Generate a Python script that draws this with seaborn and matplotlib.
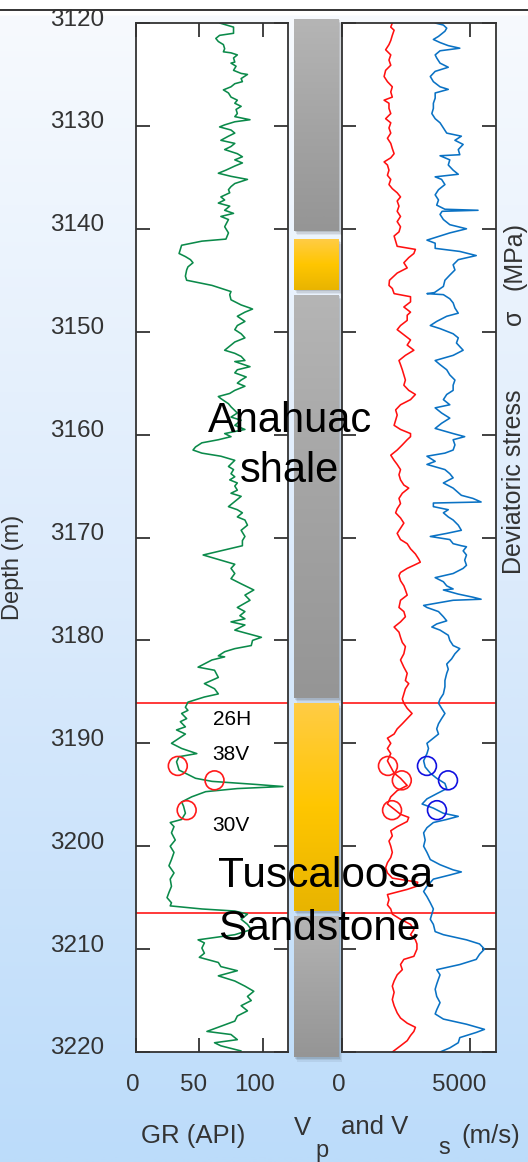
import numpy as np
import matplotlib
matplotlib.use("Agg")
import matplotlib.pyplot as plt
import seaborn as sns
from matplotlib.transforms import ScaledTranslation
from matplotlib.patches import Rectangle
from matplotlib.colors import LinearSegmentedColormap
from matplotlib.lines import Line2D

# ---------------- data (depth in m) ----------------
gr_log = [(3120.0,66),(3120.4,77),(3121.0,77),(3121.2,66),(3121.5,63),(3121.8,65),(3122.1,69),(3122.5,70),
          (3122.8,69),(3122.9,75),(3123.1,80),(3123.4,77),(3123.8,78),(3123.9,75),(3124.2,79),(3124.6,77),
          (3124.9,83),(3125.0,88),(3125.4,83),(3125.7,84),(3125.9,78),(3126.2,75),(3126.5,69),(3126.8,73),
          (3127.2,75),(3127.5,80),(3127.8,78),(3128.1,83),(3128.4,79),(3128.8,80),(3129.1,78),(3129.4,90),
          (3129.6,78),(3129.9,70),(3130.1,66),(3130.4,75),(3130.7,78),(3131.0,73),(3131.4,67),(3131.7,78),
          (3132.0,75),(3132.3,70),(3132.7,80),(3133.0,84),(3133.3,78),(3133.6,84),(3133.9,78),(3134.3,71),
          (3134.6,65),(3134.9,75),(3135.2,88),(3135.6,78),(3135.9,75),(3136.2,73),(3136.5,74),(3136.9,67),
          (3137.2,70),(3137.5,65),(3137.8,74),(3138.2,70),(3138.5,77),(3138.8,67),(3139.1,73),(3139.8,70),
          (3140.4,73),(3141.0,71),(3141.2,52),(3141.6,36),(3142.0,35),(3142.4,34),(3142.7,39),(3143.0,43),
          (3143.3,45),(3143.7,41),(3144.0,40),(3144.6,39),(3145.0,40),(3145.5,60),(3146.1,75),(3146.4,74),
          (3146.9,75),(3147.4,83),(3147.7,90),(3147.8,92),(3148.1,86),(3148.5,80),(3149.0,86),(3149.4,80),
          (3149.8,78),(3150.2,83),(3150.6,86),(3151.0,78),(3151.5,73),(3151.8,70),(3152.1,78),(3152.4,83),
          (3152.8,86),(3152.9,78),(3153.4,90),(3153.7,80),(3154.0,78),(3154.4,87),(3154.7,83),(3155.0,80),
          (3155.3,86),(3155.7,78),(3156.0,74),(3156.3,65),(3156.5,67),(3157.0,73),(3157.3,75),(3157.9,80),
          (3158.3,75),(3158.6,83),(3159.1,78),(3159.5,86),(3159.9,70),(3160.2,75),(3160.5,65),(3160.8,52),
          (3161.2,47),(3161.5,45),(3161.8,52),(3162.1,67),(3162.5,78),(3163.1,73),(3163.4,77),(3163.8,75),
          (3164.1,78),(3164.4,74),(3164.7,80),(3165.0,78),(3165.4,80),(3165.7,75),(3166.0,83),(3166.5,78),
          (3167.0,73),(3167.3,80),(3167.6,84),(3168.0,80),(3168.3,86),(3168.8,88),(3169.3,83),(3169.9,86),
          (3170.3,84),(3170.8,84),(3171.7,53),(3172.6,78),(3173.0,75),(3173.5,78),(3174.0,75),(3174.5,83),
          (3175.1,93),(3175.6,86),(3176.1,90),(3176.8,80),(3177.2,86),(3177.6,82),(3177.9,86),(3178.2,75),
          (3178.5,86),(3179.0,78),(3179.7,99),(3180.0,92),(3180.5,91),(3180.8,78),(3181.1,70),(3181.5,65),
          (3181.6,70),(3181.9,60),(3182.6,49),(3182.9,62),(3183.6,65),(3184.2,54),(3184.7,62),(3185.2,65),
          (3185.5,54),(3186.0,41),(3186.5,39),(3186.8,41),(3187.1,36),(3187.6,40),(3187.9,35),(3188.4,39),
          (3188.7,32),(3189.1,39),(3190.0,28),(3190.5,36),(3191.0,48),(3191.3,34),(3191.8,32),(3192.6,34),
          (3193.4,47),(3193.7,60),(3194.0,95),(3194.2,116),(3194.4,80),(3194.7,55),(3195.2,44),(3195.7,36),
          (3196.1,37.5),(3196.8,39),(3197.4,36),(3197.7,27),(3198.1,30),(3198.7,28),(3199.4,31),(3200.0,27),
          (3200.6,30),(3201.3,28),(3201.9,26),(3202.6,30),(3203.2,27),(3203.9,28),(3204.5,26),(3205.0,24.5),
          (3205.5,28),(3205.8,27),(3206.1,52),(3206.3,78),(3206.6,88),(3207.1,83),(3207.6,88),(3208.1,91),
          (3208.6,78),(3209.1,49),(3209.4,54),(3209.9,52),(3210.4,54),(3210.8,50),(3211.3,65),(3211.7,67),
          (3212.1,80),(3212.6,65),(3213.1,78),(3213.6,86),(3214.1,93),(3214.6,88),(3215.0,91),(3215.5,83),
          (3216.0,88),(3216.5,80),(3217.0,78),(3217.5,67),(3218.0,56),(3218.3,75),(3218.6,78),(3218.8,80),
          (3219.1,62),(3219.4,67),(3219.9,83)]

vp_log = [(3120.0,1960),(3120.4,1900),(3120.7,2030),(3121.2,1960),(3121.7,1900),(3122.1,1830),(3122.6,1700),
          (3123.1,1900),(3123.6,1830),(3124.1,1900),(3124.6,1700),(3125.2,1640),(3125.7,1770),(3126.2,1960),
          (3126.7,1900),(3127.2,1960),(3127.5,1640),(3127.8,1830),(3128.3,1830),(3128.8,1900),(3129.3,1700),
          (3129.7,1900),(3130.2,1830),(3130.7,1900),(3131.2,1770),(3131.7,1900),(3132.2,1960),(3132.7,2030),
          (3133.1,1900),(3133.5,1640),(3133.8,1770),(3134.3,1830),(3134.8,1770),(3135.2,1900),(3135.7,1830),
          (3136.1,1960),(3136.5,2150),(3136.9,2280),(3137.3,2150),(3137.8,2220),(3138.3,2150),(3138.8,2280),
          (3139.3,2150),(3139.8,2280),(3140.3,2220),(3140.7,2030),(3141.2,2090),(3141.7,2150),(3142.0,2860),
          (3142.4,2800),(3142.8,2600),(3143.3,2410),(3143.8,2540),(3144.3,2150),(3145.0,1850),(3145.5,1830),
          (3145.8,1960),(3146.3,2030),(3146.6,2670),(3147.1,2670),(3147.6,2410),(3148.1,2670),(3148.4,2540),
          (3148.9,2540),(3149.4,2280),(3149.8,2150),(3150.3,2410),(3150.8,2670),(3151.3,2540),(3151.8,2800),
          (3152.3,2470),(3152.8,2220),(3153.2,2280),(3153.7,2350),(3154.2,2410),(3154.7,2470),(3155.2,2410),
          (3155.7,2600),(3156.1,2860),(3156.6,2670),(3157.1,2280),(3157.6,2090),(3158.1,2150),(3158.6,2090),
          (3159.1,2030),(3159.5,2280),(3159.9,2670),(3160.2,2670),(3160.5,2540),(3161.0,2350),(3161.5,2150),
          (3162.0,1900),(3162.5,2030),(3162.9,2150),(3163.4,2280),(3163.9,2220),(3164.4,2280),(3164.9,2410),
          (3165.2,2600),(3165.7,2350),(3166.2,2220),(3166.7,2280),(3167.2,2150),(3167.6,2090),(3168.1,2280),
          (3168.6,2410),(3169.1,2280),(3169.6,2150),(3170.2,2280),(3170.6,2540),(3171.1,2670),(3171.6,2860),
          (3172.1,2990),(3172.4,3050),(3172.7,2800),(3173.0,2540),(3173.4,2280),(3173.7,2220),(3174.2,2280),
          (3174.7,2410),(3175.1,2470),(3175.6,2540),(3176.1,2280),(3176.8,2220),(3177.2,2410),(3177.7,2470),
          (3178.2,2280),(3178.7,2030),(3179.2,2220),(3179.7,2280),(3180.2,2350),(3180.6,2470),(3181.3,2410),
          (3181.9,2280),(3182.6,2410),(3183.2,2540),(3183.9,2470),(3184.2,2600),(3184.7,2470),(3185.2,2410),
          (3185.7,2350),(3186.1,2410),(3186.6,2540),(3187.1,2730),(3187.6,2540),(3188.1,2350),(3188.6,2150),
          (3189.1,2030),(3189.5,1770),(3190.0,1900),(3190.5,1770),(3191.0,1900),(3191.7,1770),(3192.3,1900),
          (3192.9,2030),(3193.4,2280),(3194.1,2540),(3194.6,2150),(3195.2,1900),(3195.9,1770),(3196.4,2030),
          (3196.9,2280),(3197.2,2600),(3197.6,2540),(3198.1,2150),(3198.5,1900),(3199.0,1960),(3199.5,1830),
          (3200.0,1900),(3200.6,1960),(3201.1,1900),(3201.6,1770),(3202.1,1700),(3202.6,1770),(3203.1,1960),
          (3203.5,2950),(3203.9,2900),(3204.2,2540),(3204.7,1770),(3205.2,1830),(3205.7,1770),(3206.1,1900),
          (3206.6,1960),(3207.1,2280),(3207.6,2670),(3208.1,2800),(3208.6,2670),(3209.1,2860),(3209.5,2920),
          (3210.0,2920),(3210.7,2800),(3211.0,2410),(3211.5,2280),(3212.0,2350),(3212.5,2150),(3213.1,2030),
          (3213.6,1960),(3214.2,2030),(3214.9,1960),(3215.5,2030),(3216.2,2150),(3216.7,2280),(3217.2,2540),
          (3217.6,2860),(3218.0,2800),(3218.4,2670),(3218.9,2540),(3219.4,2280),(3220.0,1960)]

vs_log = [(3120.0,3630),(3120.2,3950),(3120.5,4080),(3120.8,4010),(3121.3,3760),(3121.6,3560),(3121.9,3820),
          (3122.2,4140),(3122.45,4590),(3122.7,3820),(3123.1,3630),(3123.4,3690),(3123.9,3820),(3124.3,4140),
          (3124.7,3630),(3125.2,3440),(3125.7,3560),(3126.2,3820),(3126.45,4140),(3126.8,3630),(3127.3,3630),
          (3127.8,3560),(3128.3,3560),(3128.8,3500),(3129.3,3630),(3129.7,3820),(3130.2,3950),(3130.7,4080),
          (3131.0,4650),(3131.4,4400),(3131.8,4720),(3132.3,4530),(3132.8,4590),(3132.9,3820),(3133.3,4200),
          (3133.8,4140),(3134.3,4330),(3134.7,4530),(3134.95,3630),(3135.2,3880),(3135.7,4010),(3136.2,3760),
          (3136.7,3630),(3137.2,3760),(3137.7,3690),(3138.1,4010),(3138.2,5300),(3138.3,3900),(3138.6,3820),
          (3139.1,3950),(3139.6,4200),(3140.0,4850),(3140.4,4200),(3140.9,3560),(3141.1,3310),(3141.4,3630),
          (3141.9,3630),(3142.2,4590),(3142.6,5230),(3143.0,4530),(3143.5,4330),(3144.0,4400),(3144.5,4200),
          (3145.0,4010),(3145.6,3950),(3146.2,3600),(3146.3,3310),(3146.4,3950),(3146.8,4200),(3147.2,4330),
          (3147.7,4400),(3148.2,4530),(3148.5,4080),(3149.0,3690),(3149.4,3440),(3149.7,3820),(3150.2,4330),
          (3150.6,4530),(3151.1,4460),(3151.8,4720),(3152.3,4330),(3152.8,3630),(3153.2,3820),(3153.7,4080),
          (3154.2,4200),(3154.7,4400),(3155.2,4330),(3155.7,4330),(3156.1,4080),(3156.6,3950),(3157.1,4200),
          (3157.4,3630),(3157.9,3880),(3158.4,4200),(3158.9,3880),(3159.4,3630),(3159.9,4330),(3160.2,4780),
          (3160.5,4330),(3161.0,4400),(3161.5,4330),(3161.8,4010),(3162.1,3310),(3162.6,3630),(3162.9,3310),
          (3163.4,4010),(3163.8,4200),(3164.2,4330),(3164.7,3950),(3165.2,4330),(3165.9,4650),(3166.2,5100),
          (3166.55,5420),(3166.65,3560),(3167.0,3560),(3167.3,4140),(3167.6,3950),(3168.0,4140),(3168.3,4330),
          (3168.8,4530),(3169.3,4650),(3169.6,4080),(3169.9,3440),(3170.2,4200),(3170.6,4330),(3170.8,4650),
          (3170.9,4850),(3171.3,4720),(3171.7,4850),(3172.2,4780),(3172.7,4850),(3173.0,4720),(3173.5,4330),
          (3173.9,3630),(3174.3,3950),(3174.7,4080),(3175.0,4330),(3175.1,3950),(3175.5,4530),(3175.8,5100),
          (3176.0,5420),(3176.1,4330),(3176.6,3180),(3176.8,3310),(3177.2,3760),(3177.7,3950),(3178.1,4080),
          (3178.4,3690),(3178.7,3500),(3179.0,3820),(3179.5,4140),(3180.0,4200),(3180.5,4330),(3180.8,4590),
          (3181.3,4400),(3181.8,4270),(3182.3,4080),(3182.8,4140),(3183.2,4080),(3183.9,4010),(3184.5,4010),
          (3185.2,3950),(3185.7,3820),(3186.1,3760),(3186.6,3880),(3187.1,4010),(3187.6,3880),(3188.1,3760),
          (3188.6,3690),(3189.1,3760),(3189.5,3560),(3190.0,3310),(3190.5,3370),(3191.0,3310),(3191.7,3180),
          (3192.3,3240),(3192.9,3440),(3193.4,3690),(3193.9,4010),(3194.4,4080),(3194.9,3690),(3195.4,3310),
          (3195.9,3120),(3196.3,3560),(3196.8,3950),(3197.1,4530),(3197.4,4080),(3197.7,3560),(3198.2,3310),
          (3198.7,3180),(3199.4,3240),(3200.0,3180),(3200.6,3310),(3201.3,3440),(3201.8,3820),(3202.3,4330),
          (3202.5,4650),(3202.8,4200),(3203.2,3560),(3203.9,3310),(3204.4,3180),(3204.9,3310),(3205.5,3440),
          (3206.1,3560),(3206.6,3500),(3207.1,3440),(3207.6,3560),(3208.3,3630),(3208.6,3950),(3209.1,4850),
          (3209.5,5360),(3210.0,5550),(3210.5,5360),(3211.0,5230),(3211.5,4590),(3212.0,3690),(3212.5,3820),
          (3212.9,3760),(3213.4,3690),(3213.9,3630),(3214.6,3690),(3215.2,3820),(3215.9,3690),(3216.3,3630),
          (3216.8,3950),(3217.3,4850),(3217.8,5550),(3218.1,5230),(3218.6,4590),(3219.1,4530),(3219.6,4200),
          (3220.0,3820)]

sample_depth = [3192.2, 3193.6, 3196.5]
sample_gr = [33, 62, 40]
sample_vp = [1790, 2330, 1950]
sample_vs = [3310, 4130, 3700]
sample_labels = ["26H", "38V", "30V"]
sample_label_depth = [3187.7, 3191.1, 3198.0]

boundary_depth = [3186.1, 3206.5]

litho_top = [3119.6, 3141.0, 3146.4, 3186.1, 3206.8]
litho_base = [3140.2, 3145.9, 3185.6, 3206.3, 3220.5]
litho_kind = ["shale", "sand", "shale", "sand", "shale"]

depth_ticks = list(range(3120, 3221, 10))
gr_ticks = [0, 50, 100]
v_ticks = [0, 5000]

gr_depth, gr_api = map(list, zip(*gr_log))
vp_depth, vp_ms = map(list, zip(*vp_log))
vs_depth, vs_ms = map(list, zip(*vs_log))

# ---------------- figure ----------------
sns.set_theme(style="white")
plt.rcParams["font.family"] = ["Liberation Sans", "DejaVu Sans"]

W, H, DPI = 528, 1162, 100
fig = plt.figure(figsize=(W / DPI, H / DPI), dpi=DPI)


def fx(px):
    return px / W


def fy(py):
    return 1 - py / H


# background gradient
bg = fig.add_axes([0, 0, 1, 1], zorder=-10)
cmap_bg = LinearSegmentedColormap.from_list(
    "bg", [(0.0, "#ffffff"), (0.008, "#ffffff"), (0.01, "#f7fafe"), (0.5, "#dcebfc"), (1.0, "#bcdcfa")])
bg.imshow(np.linspace(0, 1, 600)[:, None], aspect="auto", cmap=cmap_bg,
          extent=[0, 1, 0, 1], origin="upper")
bg.set_axis_off()
fig.add_artist(Line2D([0, 1], [fy(9.5), fy(9.5)], color="#111111", lw=1.2,
                      transform=fig.transFigure))

y0, y1 = 23, 1052
ax_gr = fig.add_axes([fx(136), fy(y1), fx(288) - fx(136), fy(y0) - fy(y1)])
ax_v = fig.add_axes([fx(342), fy(y1), fx(496) - fx(342), fy(y0) - fy(y1)])
ly0, ly1 = 15, 1062
ax_lith = fig.add_axes([fx(288), fy(ly1), fx(342) - fx(288), fy(ly0) - fy(ly1)])

ppm = (y1 - y0) / 100.0
for ax in (ax_gr, ax_v):
    ax.set_ylim(3220, 3120)
    ax.set_facecolor("white")

# ---------- logs ----------
sns.lineplot(x=gr_api, y=gr_depth, ax=ax_gr, sort=False, estimator=None,
             color="#0b8a4a", linewidth=1.15)
sns.lineplot(x=vp_ms, y=vp_depth, ax=ax_v, sort=False, estimator=None,
             color="#ff1010", linewidth=1.15)
sns.lineplot(x=vs_ms, y=vs_depth, ax=ax_v, sort=False, estimator=None,
             color="#0a72c4", linewidth=1.15)

for bd in boundary_depth:
    ax_gr.axhline(bd, color="#ff2a2a", lw=1.3, zorder=1)
    ax_v.axhline(bd, color="#ff2a2a", lw=1.3, zorder=1)

circ = dict(s=185, facecolors="none", linewidth=1.2, marker="o", zorder=4)
sns.scatterplot(x=sample_gr, y=sample_depth, ax=ax_gr, edgecolor="#ff1a1a", **circ)
sns.scatterplot(x=sample_vp, y=sample_depth, ax=ax_v, edgecolor="#ff1a1a", **circ)
sns.scatterplot(x=sample_vs, y=sample_depth, ax=ax_v, edgecolor="#1010e0", **circ)

ax_gr.set_xlim(0, 120)
ax_v.set_xlim(0, 6000)

for ax in (ax_gr, ax_v):
    ax.set_xlabel("")
    ax.set_ylabel("")
    ax.set_ylim(3220, 3120)
    ax.set_yticks(depth_ticks)
    for sp in ax.spines.values():
        sp.set_color("#333333")
        sp.set_linewidth(1.3)
        sp.set_visible(True)
    ax.tick_params(axis="both", direction="in", length=10, width=1.3, color="#333333",
                   top=True, right=True, bottom=True, left=True,
                   labelsize=17.5, labelcolor="#333333")
    ax.tick_params(axis="x", pad=16)

ax_gr.set_xticks(gr_ticks)
ax_gr.set_xticklabels([str(t) for t in gr_ticks])
ax_gr.set_yticklabels([str(t) for t in depth_ticks])
ax_gr.tick_params(axis="y", pad=23)
ax_v.set_xticks(v_ticks)
ax_v.set_xticklabels([str(t) for t in v_ticks])
ax_v.tick_params(axis="y", labelleft=False)


def shift(label, dx, dy):
    label.set_transform(label.get_transform() +
                        ScaledTranslation(dx / DPI, dy / DPI, fig.dpi_scale_trans))


for t in ax_gr.yaxis.get_major_ticks():
    shift(t.label1, 0, 6)
for t, dx in zip(ax_gr.xaxis.get_major_ticks(), [-3.5, -6, -8]):
    shift(t.label1, dx, 0)
for t, dx in zip(ax_v.xaxis.get_major_ticks(), [-3.5, -11]):
    shift(t.label1, dx, 0)

# ---------- lithology column ----------
ax_lith.set_axis_off()
ax_lith.patch.set_visible(False)
cm_shale = LinearSegmentedColormap.from_list("sh", ["#b5b5b5", "#a4a4a4", "#959595"])
cm_sand = LinearSegmentedColormap.from_list("sd", ["#ffcc45", "#ffc600", "#e8b400"])
grad = np.linspace(0, 1, 256)[:, None]
bx, bw = 0.530, 0.830
for top, base, kind in zip(litho_top, litho_base, litho_kind):
    # soft shadow
    for dx, dy, a in [(1, -1.5, 0.10), (2, -3, 0.08), (3, -4.5, 0.06)]:
        sh = Rectangle((bx - bw / 2, top), bw, base - top, facecolor="black",
                       edgecolor="none", alpha=a, zorder=1,
                       transform=ax_lith.transData + ScaledTranslation(dx / DPI, dy / DPI, fig.dpi_scale_trans))
        ax_lith.add_patch(sh)
    bars = ax_lith.bar(x=bx, height=base - top, bottom=top, width=bw,
                       color="none", edgecolor="none", zorder=2)
    patch = bars.patches[0]
    im = ax_lith.imshow(grad, aspect="auto", origin="upper", zorder=2,
                        cmap=cm_shale if kind == "shale" else cm_sand,
                        extent=[bx - bw / 2, bx + bw / 2, base, top])
    im.set_clip_path(patch)
ax_lith.set_xlim(0, 1)
ax_lith.set_ylim(3220 + (ly1 - y1) / ppm, 3120 - (y0 - ly0) / ppm)

# ---------- annotations ----------
ax_gr.set_zorder(5)
for lab, d in zip(sample_labels, sample_label_depth):
    ax_gr.text(60.5, d, lab, fontsize=15, color="black", ha="left", va="center")
ax_gr.text(121.5, 3158.7, "Anahuac", fontsize=30, ha="center", va="center", color="black", clip_on=False)
ax_gr.text(121.5, 3163.5, "shale", fontsize=30, ha="center", va="center", color="black", clip_on=False)
ax_gr.text(64.5, 3202.9, "Tuscaloosa", fontsize=30.5, ha="left", va="center", color="black", clip_on=False)
ax_gr.text(65.0, 3208.0, "Sandstone", fontsize=30.5, ha="left", va="center", color="black", clip_on=False)

tc = "#333333"
fig.text(fx(13), fy(567), "Depth (m)", rotation=90, fontsize=17, color=tc, ha="center", va="center")
fig.text(fx(193), fy(1136), "GR (API)", fontsize=18.5, color=tc, ha="center", va="center")
fig.text(fx(302), fy(1128), "V", fontsize=18.5, color=tc, ha="center", va="center")
fig.text(fx(322), fy(1151), "p", fontsize=17, color=tc, ha="center", va="center")
fig.text(fx(375), fy(1127), "and V", fontsize=18.5, color=tc, ha="center", va="center")
fig.text(fx(444), fy(1148), "s", fontsize=17, color=tc, ha="center", va="center")
fig.text(fx(491), fy(1136), "(m/s)", fontsize=18.5, color=tc, ha="center", va="center")
fig.text(fx(514), fy(482), "Deviatoric stress", rotation=90, fontsize=18, color=tc, ha="center", va="center")
fig.text(fx(514), fy(317), "σ", rotation=90, fontsize=18, color=tc, ha="center", va="center")
fig.text(fx(514), fy(256), "(MPa)", rotation=90, fontsize=18, color=tc, ha="center", va="center")

fig.savefig("out.png", dpi=DPI)
